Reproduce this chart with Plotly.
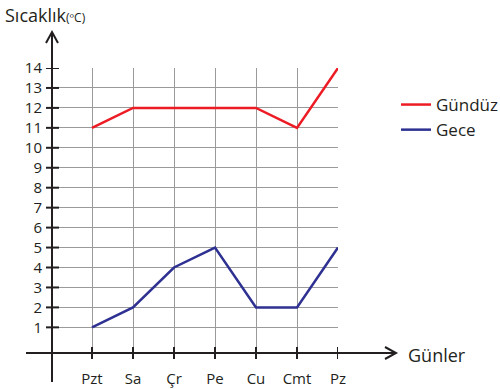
import plotly.graph_objects as go

days = ["Pzt", "Sa", "Çr", "Pe", "Cu", "Cmt", "Pz"]
gunduz = [11, 12, 12, 12, 12, 11, 14]
gece = [1, 2, 4, 5, 2, 2, 5]
y_ticks = list(range(1, 15))

# plot area in pixels (500x389 page)
L, R, T, B = 52, 338, 68, 353
W, H = 500, 389


def px(p):
    return (p - L) / (R - L)


def py(p):
    return (B - p) / (B - T)


ink = "#231f20"
font = "Open Sans, sans-serif"

fig = go.Figure()
fig.add_trace(go.Scatter(x=days, y=gunduz, mode="lines", name="Gündüz",
                         line=dict(color="#ed1c24", width=2.5)))
fig.add_trace(go.Scatter(x=days, y=gece, mode="lines", name="Gece",
                         line=dict(color="#2e3192", width=2.5)))

shapes = []
line_style = dict(color=ink, width=2)
# y axis with open arrow head
shapes.append(dict(type="line", xref="paper", yref="paper",
                   x0=px(52), x1=px(52), y0=py(382), y1=py(32), line=line_style))
shapes.append(dict(type="path", xref="paper", yref="paper",
                   path=f"M {px(46)},{py(43)} L {px(52)},{py(32)} L {px(58)},{py(43)}",
                   line=line_style))
# x axis with open arrow head
shapes.append(dict(type="line", xref="paper", yref="paper",
                   x0=px(26), x1=px(396), y0=py(353), y1=py(353), line=line_style))
shapes.append(dict(type="path", xref="paper", yref="paper",
                   path=f"M {px(385)},{py(347)} L {px(396)},{py(353)} L {px(385)},{py(359)}",
                   line=line_style))
# tick crosses
for v in y_ticks:
    shapes.append(dict(type="line", xref="paper", yref="y", x0=px(46), x1=px(59),
                       y0=v, y1=v, line=line_style))
for d in days:
    shapes.append(dict(type="line", xref="x", yref="paper", x0=d, x1=d,
                       y0=py(359), y1=py(347), line=line_style))

fig.update_layout(
    width=W, height=H,
    margin=dict(l=L, r=W - R, t=T, b=H - B, pad=0, autoexpand=False),
    paper_bgcolor="white", plot_bgcolor="white",
    font=dict(family=font, color=ink, size=15),
    shapes=shapes,
    showlegend=True,
    legend=dict(x=px(396), y=py(87), xref="paper", yref="paper",
                xanchor="left", yanchor="top", bgcolor="rgba(0,0,0,0)",
                font=dict(size=17, family=font, color=ink), itemwidth=30,
                tracegroupgap=0),
    xaxis=dict(type="category", categoryorder="array", categoryarray=days,
               range=[-(R - L) / 41 + 6, 6], showgrid=True, gridcolor="#9a9a9a",
               gridwidth=1, showline=False, zeroline=False, ticks="",
               tickfont=dict(size=15, family=font, color=ink), ticklabelstandoff=15),
    yaxis=dict(range=[14 - (B - T) / 19.95, 14], tickvals=y_ticks, showgrid=True,
               gridcolor="#9a9a9a", gridwidth=1, showline=False, zeroline=False,
               ticks="", tickfont=dict(size=15, family=font, color=ink),
               ticklabelstandoff=9),
    annotations=[
        dict(text="Sıcaklık<span style='font-size:12px'>(ºC)</span>",
             xref="paper", yref="paper",
             x=px(3), y=py(15), xanchor="left", yanchor="middle", showarrow=False,
             font=dict(size=18, family=font, color=ink)),
        dict(text="Günler", xref="paper", yref="paper",
             x=px(406), y=py(355), xanchor="left", yanchor="middle", showarrow=False,
             font=dict(size=18, family=font, color=ink)),
    ],
)

# drop the browser's default body margin so the figure sits at the page corner
fig.write_html("out.html", config={"displayModeBar": False},
               post_script="document.body.style.margin='0';")
